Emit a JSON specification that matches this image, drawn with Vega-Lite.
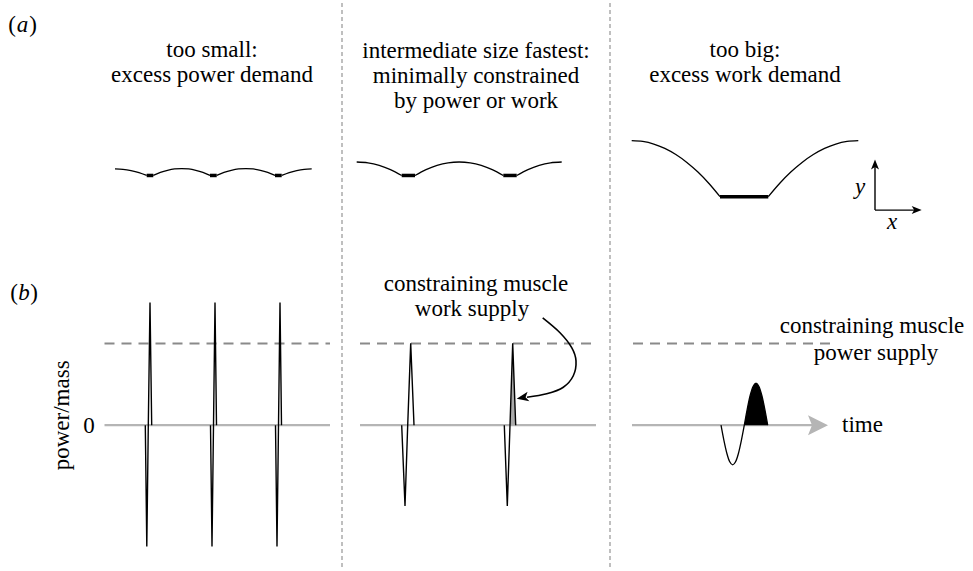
{
  "$schema": "https://vega.github.io/schema/vega-lite/v6.json",
  "width": 973,
  "height": 571,
  "padding": 0,
  "autosize": {"type": "fit", "contains": "padding"},
  "background": "white",
  "config": {"view": {"stroke": null}, "font": "Liberation Serif"},
  "encoding": {
    "x": {"field": "x", "type": "quantitative", "scale": {"domain": [0, 973], "nice": false, "zero": false}, "axis": null},
    "y": {"field": "y", "type": "quantitative", "scale": {"domain": [0, 571], "nice": false, "zero": false, "reverse": true}, "axis": null}
  },
  "layer": [
    {
      "data": {"values": [
        {"g": "v1", "i": 0, "x": 342, "y": 0}, {"g": "v1", "i": 1, "x": 342, "y": 571},
        {"g": "v2", "i": 0, "x": 610, "y": 0}, {"g": "v2", "i": 1, "x": 610, "y": 571}
      ]},
      "mark": {"type": "line", "color": "#aaaaaa", "strokeWidth": 1.5, "strokeDash": [4, 3]},
      "encoding": {"detail": {"field": "g"}, "order": {"field": "i"}}
    },
    {
      "data": {"values": [
        {"g": "z1", "i": 0, "x": 104.5, "y": 426.7}, {"g": "z1", "i": 1, "x": 330, "y": 426.7},
        {"g": "z2", "i": 0, "x": 360, "y": 426.7}, {"g": "z2", "i": 1, "x": 596, "y": 426.7},
        {"g": "z3", "i": 0, "x": 632, "y": 426.7}, {"g": "z3", "i": 1, "x": 812, "y": 426.7}
      ]},
      "mark": {"type": "line", "color": "#b5b5b5", "strokeWidth": 2.2},
      "encoding": {"detail": {"field": "g"}, "order": {"field": "i"}}
    },
    {
      "data": {"values": [
        {"g": "d1", "i": 0, "x": 104.5, "y": 344}, {"g": "d1", "i": 1, "x": 330, "y": 344},
        {"g": "d2", "i": 0, "x": 360, "y": 344}, {"g": "d2", "i": 1, "x": 596, "y": 344},
        {"g": "d3", "i": 0, "x": 633, "y": 344}, {"g": "d3", "i": 1, "x": 830, "y": 344}
      ]},
      "mark": {"type": "line", "color": "#8a8a8a", "strokeWidth": 2, "strokeDash": [10, 7]},
      "encoding": {"detail": {"field": "g"}, "order": {"field": "i"}}
    },
    {
      "data": {"values": [
        {"x": 510, "y": 426.7, "y0": 426.7}, {"x": 512.7, "y": 344, "y0": 426.7}, {"x": 515.7, "y": 426.7, "y0": 426.7}
      ]},
      "mark": {"type": "area", "color": "#aaaaaa", "opacity": 1},
      "encoding": {"y2": {"field": "y0"}}
    },
    {
      "data": {"values": [
        {"x": 744.3, "y": 426.7, "y0": 426.7}, {"x": 747.23, "y": 410.5, "y0": 426.7}, {"x": 750.15, "y": 396.7, "y0": 426.7},
        {"x": 753.08, "y": 387.5, "y0": 426.7}, {"x": 756.0, "y": 384.3, "y0": 426.7}, {"x": 758.93, "y": 387.5, "y0": 426.7},
        {"x": 761.85, "y": 396.7, "y0": 426.7}, {"x": 764.78, "y": 410.5, "y0": 426.7}, {"x": 767.7, "y": 426.7, "y0": 426.7}
      ]},
      "mark": {"type": "area", "color": "black", "opacity": 1, "interpolate": "monotone"},
      "encoding": {"y2": {"field": "y0"}}
    },
    {
      "data": {"values": [
        {"g": "s1", "i": 0, "x": 145.3, "y": 426.7}, {"g": "s1", "i": 1, "x": 146.8, "y": 549.3}, {"g": "s1", "i": 2, "x": 148.3, "y": 426.7}, {"g": "s1", "i": 3, "x": 150, "y": 302.7}, {"g": "s1", "i": 4, "x": 151.7, "y": 426.7},
        {"g": "s2", "i": 0, "x": 210.5, "y": 426.7}, {"g": "s2", "i": 1, "x": 212, "y": 549.3}, {"g": "s2", "i": 2, "x": 213.5, "y": 426.7}, {"g": "s2", "i": 3, "x": 215, "y": 302.7}, {"g": "s2", "i": 4, "x": 216.5, "y": 426.7},
        {"g": "s3", "i": 0, "x": 275.5, "y": 426.7}, {"g": "s3", "i": 1, "x": 277, "y": 549.3}, {"g": "s3", "i": 2, "x": 278.5, "y": 426.7}, {"g": "s3", "i": 3, "x": 280, "y": 302.7}, {"g": "s3", "i": 4, "x": 281.5, "y": 426.7},
        {"g": "m1", "i": 0, "x": 401.7, "y": 426.7}, {"g": "m1", "i": 1, "x": 405, "y": 508.3}, {"g": "m1", "i": 2, "x": 407.7, "y": 426.7}, {"g": "m1", "i": 3, "x": 410.7, "y": 344}, {"g": "m1", "i": 4, "x": 414, "y": 426.7},
        {"g": "m2", "i": 0, "x": 504.3, "y": 426.7}, {"g": "m2", "i": 1, "x": 507.3, "y": 508.3}, {"g": "m2", "i": 2, "x": 510, "y": 426.7}, {"g": "m2", "i": 3, "x": 512.7, "y": 344}, {"g": "m2", "i": 4, "x": 515.7, "y": 426.7},
        {"g": "ay", "i": 0, "x": 875, "y": 209.3}, {"g": "ay", "i": 1, "x": 875, "y": 163},
        {"g": "ax", "i": 0, "x": 875, "y": 209.3}, {"g": "ax", "i": 1, "x": 917, "y": 209.3}
      ]},
      "mark": {"type": "line", "color": "black", "strokeWidth": 1.4},
      "encoding": {"detail": {"field": "g"}, "order": {"field": "i"}}
    },
    {
      "data": {"values": [
        {"g": "a0", "i": 0, "x": 115, "y": 167.7}, {"g": "a0", "i": 1, "x": 123, "y": 168.1}, {"g": "a0", "i": 2, "x": 131, "y": 169.35}, {"g": "a0", "i": 3, "x": 139, "y": 171.4}, {"g": "a0", "i": 4, "x": 146.7, "y": 174.3},
        {"g": "a1", "i": 0, "x": 153.3, "y": 174.3}, {"g": "a1", "i": 1, "x": 160.4, "y": 171.2}, {"g": "a1", "i": 2, "x": 167.5, "y": 169.05}, {"g": "a1", "i": 3, "x": 174.6, "y": 167.7}, {"g": "a1", "i": 4, "x": 181.65, "y": 167.3}, {"g": "a1", "i": 5, "x": 188.7, "y": 167.7}, {"g": "a1", "i": 6, "x": 195.8, "y": 169.05}, {"g": "a1", "i": 7, "x": 202.9, "y": 171.2}, {"g": "a1", "i": 8, "x": 210, "y": 174.3},
        {"g": "a2", "i": 0, "x": 216.7, "y": 174.3}, {"g": "a2", "i": 1, "x": 224, "y": 171.2}, {"g": "a2", "i": 2, "x": 231.3, "y": 169.05}, {"g": "a2", "i": 3, "x": 238.6, "y": 167.7}, {"g": "a2", "i": 4, "x": 245.85, "y": 167.3}, {"g": "a2", "i": 5, "x": 253.1, "y": 167.7}, {"g": "a2", "i": 6, "x": 260.4, "y": 169.05}, {"g": "a2", "i": 7, "x": 267.7, "y": 171.2}, {"g": "a2", "i": 8, "x": 275, "y": 174.3},
        {"g": "a3", "i": 0, "x": 281.7, "y": 174.3}, {"g": "a3", "i": 1, "x": 289.2, "y": 171.4}, {"g": "a3", "i": 2, "x": 296.7, "y": 169.35}, {"g": "a3", "i": 3, "x": 304.2, "y": 168.1}, {"g": "a3", "i": 4, "x": 311.7, "y": 167.7},
        {"g": "b0", "i": 0, "x": 356.7, "y": 160.7}, {"g": "b0", "i": 1, "x": 367.95, "y": 161.55}, {"g": "b0", "i": 2, "x": 379.2, "y": 164.1}, {"g": "b0", "i": 3, "x": 390.45, "y": 168.35}, {"g": "b0", "i": 4, "x": 401.7, "y": 174.3},
        {"g": "b1", "i": 0, "x": 415, "y": 174.3}, {"g": "b1", "i": 1, "x": 426.04, "y": 168.35}, {"g": "b1", "i": 2, "x": 437.08, "y": 164.1}, {"g": "b1", "i": 3, "x": 448.11, "y": 161.55}, {"g": "b1", "i": 4, "x": 459.15, "y": 160.7}, {"g": "b1", "i": 5, "x": 470.19, "y": 161.55}, {"g": "b1", "i": 6, "x": 481.23, "y": 164.1}, {"g": "b1", "i": 7, "x": 492.26, "y": 168.35}, {"g": "b1", "i": 8, "x": 503.3, "y": 174.3},
        {"g": "b2", "i": 0, "x": 516.7, "y": 174.3}, {"g": "b2", "i": 1, "x": 527.95, "y": 168.35}, {"g": "b2", "i": 2, "x": 539.2, "y": 164.1}, {"g": "b2", "i": 3, "x": 550.45, "y": 161.55}, {"g": "b2", "i": 4, "x": 561.7, "y": 160.7},
        {"g": "c0", "i": 0, "x": 631.7, "y": 139}, {"g": "c0", "i": 1, "x": 642.74, "y": 139.89}, {"g": "c0", "i": 2, "x": 653.78, "y": 142.54}, {"g": "c0", "i": 3, "x": 664.81, "y": 146.97}, {"g": "c0", "i": 4, "x": 675.85, "y": 153.18}, {"g": "c0", "i": 5, "x": 686.89, "y": 161.15}, {"g": "c0", "i": 6, "x": 697.93, "y": 170.89}, {"g": "c0", "i": 7, "x": 708.96, "y": 182.41}, {"g": "c0", "i": 8, "x": 720, "y": 195.7},
        {"g": "c1", "i": 0, "x": 768.3, "y": 195.7}, {"g": "c1", "i": 1, "x": 779.55, "y": 182.41}, {"g": "c1", "i": 2, "x": 790.8, "y": 170.89}, {"g": "c1", "i": 3, "x": 802.05, "y": 161.15}, {"g": "c1", "i": 4, "x": 813.3, "y": 153.18}, {"g": "c1", "i": 5, "x": 824.55, "y": 146.97}, {"g": "c1", "i": 6, "x": 835.8, "y": 142.54}, {"g": "c1", "i": 7, "x": 847.05, "y": 139.89}, {"g": "c1", "i": 8, "x": 858.3, "y": 139},
        {"g": "r", "i": 0, "x": 721, "y": 426.7}, {"g": "r", "i": 1, "x": 723.91, "y": 442.0}, {"g": "r", "i": 2, "x": 726.83, "y": 455.0}, {"g": "r", "i": 3, "x": 729.74, "y": 463.7}, {"g": "r", "i": 4, "x": 732.65, "y": 466.7}, {"g": "r", "i": 5, "x": 735.56, "y": 463.7}, {"g": "r", "i": 6, "x": 738.48, "y": 455.0}, {"g": "r", "i": 7, "x": 741.39, "y": 442.0}, {"g": "r", "i": 8, "x": 744.3, "y": 426.7},
        {"g": "r", "i": 9, "x": 747.23, "y": 410.5}, {"g": "r", "i": 10, "x": 750.15, "y": 396.7}, {"g": "r", "i": 11, "x": 753.08, "y": 387.5}, {"g": "r", "i": 12, "x": 756.0, "y": 384.3}, {"g": "r", "i": 13, "x": 758.93, "y": 387.5}, {"g": "r", "i": 14, "x": 761.85, "y": 396.7}, {"g": "r", "i": 15, "x": 764.78, "y": 410.5}, {"g": "r", "i": 16, "x": 767.7, "y": 426.7}
      ]},
      "mark": {"type": "line", "color": "black", "strokeWidth": 1.3, "interpolate": "monotone"},
      "encoding": {"detail": {"field": "g"}, "order": {"field": "i"}}
    },
    {
      "data": {"values": [
        {"g": "t1", "i": 0, "x": 146.7, "y": 174.3}, {"g": "t1", "i": 1, "x": 153.3, "y": 174.3},
        {"g": "t2", "i": 0, "x": 210, "y": 174.3}, {"g": "t2", "i": 1, "x": 216.7, "y": 174.3},
        {"g": "t3", "i": 0, "x": 275, "y": 174.3}, {"g": "t3", "i": 1, "x": 281.7, "y": 174.3},
        {"g": "t4", "i": 0, "x": 401.7, "y": 174.3}, {"g": "t4", "i": 1, "x": 415, "y": 174.3},
        {"g": "t5", "i": 0, "x": 503.3, "y": 174.3}, {"g": "t5", "i": 1, "x": 516.7, "y": 174.3},
        {"g": "t6", "i": 0, "x": 720, "y": 195.7}, {"g": "t6", "i": 1, "x": 768.3, "y": 195.7}
      ]},
      "mark": {"type": "line", "color": "black", "strokeWidth": 3.5},
      "encoding": {"detail": {"field": "g"}, "order": {"field": "i"}}
    },
    {
      "data": {"values": [
        {"i": 0, "x": 542.7, "y": 318.3}, {"i": 1, "x": 560, "y": 333.3}, {"i": 2, "x": 571.7, "y": 348.3}, {"i": 3, "x": 576, "y": 361.7},
        {"i": 4, "x": 573.3, "y": 376.7}, {"i": 5, "x": 563.3, "y": 388.3}, {"i": 6, "x": 546.7, "y": 395}, {"i": 7, "x": 527, "y": 398.5}
      ]},
      "mark": {"type": "line", "color": "black", "strokeWidth": 1.6, "interpolate": "cardinal"},
      "encoding": {"order": {"field": "i"}}
    },
    {
      "data": {"values": [{"x": 875, "y": 163.3}]},
      "mark": {"type": "point", "shape": "M 1 0 L -1 -0.8 L -0.5 0 L -1 0.8 Z", "filled": true, "color": "black", "opacity": 1, "size": 100, "angle": 270}
    },
    {
      "data": {"values": [{"x": 916.7, "y": 209.3}]},
      "mark": {"type": "point", "shape": "M 1 0 L -1 -0.8 L -0.5 0 L -1 0.8 Z", "filled": true, "color": "black", "opacity": 1, "size": 100, "angle": 0}
    },
    {
      "data": {"values": [{"x": 522.6, "y": 398.9}]},
      "mark": {"type": "point", "shape": "M 1 0 L -1 -0.8 L -0.5 0 L -1 0.8 Z", "filled": true, "color": "black", "opacity": 1, "size": 144, "angle": 169}
    },
    {
      "data": {"values": [{"x": 818, "y": 426.7}]},
      "mark": {"type": "point", "shape": "M 1 0 L -1 -1 L -0.6 0 L -1 1 Z", "filled": true, "color": "#b5b5b5", "opacity": 1, "size": 400, "angle": 0}
    },
    {
      "data": {"values": [
        {"x": 212, "y": 55, "t": "too small:"},
        {"x": 212, "y": 80, "t": "excess power demand"},
        {"x": 476, "y": 56, "t": "intermediate size fastest:"},
        {"x": 476, "y": 81, "t": "minimally constrained"},
        {"x": 476, "y": 106, "t": "by power or work"},
        {"x": 745, "y": 55, "t": "too big:"},
        {"x": 745, "y": 80, "t": "excess work demand"},
        {"x": 476, "y": 291, "t": "constraining muscle"},
        {"x": 472, "y": 316, "t": "work supply"},
        {"x": 872, "y": 334, "t": "constraining muscle"},
        {"x": 876, "y": 361, "t": "power supply"},
        {"x": 862.5, "y": 434, "t": "time"},
        {"x": 89, "y": 435, "t": "0"},
        {"x": 12, "y": 29, "t": "("},
        {"x": 33, "y": 29, "t": ")"},
        {"x": 14, "y": 300, "t": "("},
        {"x": 34, "y": 300, "t": ")"}
      ]},
      "mark": {"type": "text", "fontSize": 23, "align": "center", "baseline": "alphabetic", "color": "black", "font": "Liberation Serif"},
      "encoding": {"text": {"field": "t"}}
    },
    {
      "data": {"values": [
        {"x": 22.5, "y": 29, "t": "a"},
        {"x": 24, "y": 300, "t": "b"},
        {"x": 860, "y": 193, "t": "y"},
        {"x": 892, "y": 228, "t": "x"}
      ]},
      "mark": {"type": "text", "fontSize": 23, "fontStyle": "italic", "align": "center", "baseline": "alphabetic", "color": "black", "font": "Liberation Serif"},
      "encoding": {"text": {"field": "t"}}
    },
    {
      "data": {"values": [{"x": 61.7, "y": 416.7, "t": "power/mass"}]},
      "mark": {"type": "text", "fontSize": 23, "angle": 270, "align": "center", "baseline": "middle", "color": "black", "font": "Liberation Serif"},
      "encoding": {"text": {"field": "t"}}
    }
  ]
}
